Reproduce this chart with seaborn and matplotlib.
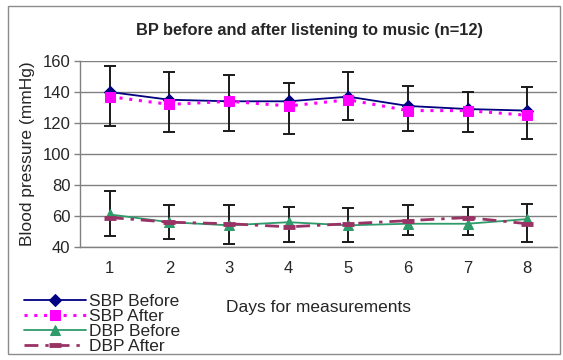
import numpy as np
import pandas as pd
import matplotlib
matplotlib.use("Agg")
import matplotlib.pyplot as plt
import seaborn as sns
from matplotlib.patches import Rectangle

# data
days = [1, 2, 3, 4, 5, 6, 7, 8]
sbp_before = [140, 135, 134, 134, 137, 131, 129, 128]
sbp_after = [137, 132, 134, 131, 135, 128, 128, 125]
dbp_before = [61, 56, 54, 56, 54, 55, 55, 58]
dbp_after = [59, 56, 55, 53, 55, 57, 59, 55]

# error bar ends (upper / lower)
sbp_err_top = [157, 153, 151, 146, 153, 144, 140, 143]
sbp_err_bot = [118, 114, 115, 113, 122, 115, 114, 110]
dbp_err_top = [76, 67, 67, 66, 65, 67, 66, 68]
dbp_err_bot = [47, 45, 42, 43, 43, 48, 48, 43]

y_ticks = [40, 60, 80, 100, 120, 140, 160]

sns.set_style("white")
plt.rcParams['font.family'] = ['Liberation Sans', 'DejaVu Sans']

fig = plt.figure(figsize=(5.63, 3.60), dpi=100)
ax = fig.add_axes([80 / 563, 1 - 247 / 360, 477 / 563, 186 / 360])

# error bars first so the lines sit on top
for mean, top, bot in [(sbp_before, sbp_err_top, sbp_err_bot),
                       (dbp_before, dbp_err_top, dbp_err_bot)]:
    mean = np.array(mean)
    yerr = [mean - np.array(bot), np.array(top) - mean]
    ax.errorbar(days, mean, yerr=yerr, fmt='none', ecolor='#1a1a1a',
                elinewidth=1.4, capsize=4.5, capthick=1.4, zorder=2)

sns.lineplot(x=days, y=sbp_before, ax=ax, color='#000080', linewidth=1.3,
             marker='D', markersize=6, markeredgecolor='#000080',
             label='SBP Before', zorder=3)
sns.lineplot(x=days, y=sbp_after, ax=ax, color='#FF00FF', linewidth=2.2,
             linestyle=(0, (1, 2.2)), marker='s', markersize=7,
             markeredgecolor='#FF00FF', label='SBP After', zorder=4)
sns.lineplot(x=days, y=dbp_before, ax=ax, color='#2E9B6A', linewidth=1.3,
             marker='^', markersize=7, markeredgecolor='#2E9B6A',
             label='DBP Before', zorder=3)
sns.lineplot(x=days, y=dbp_after, ax=ax, color='#993366', linewidth=2.0,
             linestyle=(0, (5, 2.5, 1.2, 2.5)), marker='_', markersize=9,
             markeredgewidth=3.5, markeredgecolor='#993366',
             label='DBP After', zorder=4)

ax.set_xlim(0.5, 8.5)
ax.set_ylim(40, 160)
ax.set_yticks(y_ticks)
ax.set_xticks(days)
ax.set_xticks(np.arange(0.5, 9, 1), minor=True)
ax.tick_params(axis='x', which='major', length=0, pad=10, labelsize=12)
ax.tick_params(axis='x', which='minor', length=4, color='#808080', width=1)
ax.tick_params(axis='y', which='major', length=4, color='#808080', width=1,
               pad=3, labelsize=12, left=True)
ax.yaxis.grid(True, color='#808080', linewidth=1)
ax.set_axisbelow(True)

for side in ['top', 'right']:
    ax.spines[side].set_visible(False)
for side in ['left', 'bottom']:
    ax.spines[side].set_color('#808080')
    ax.spines[side].set_linewidth(1)

ax.set_ylabel('Blood pressure (mmHg)', fontsize=12.5)
ax.yaxis.set_label_coords((35 - 80) / 477, 0.5)
ax.set_xlabel('Days for measurements', fontsize=12.5)
ax.xaxis.set_label_coords(0.5, (247 - 300) / 186)

fig.text(310 / 563, 1 - 30 / 360, 'BP before and after listening to music (n=12)',
         ha='center', va='center', fontsize=11.8, fontweight='bold')

handles, labels = ax.get_legend_handles_labels()
ax.get_legend().remove()
fig.legend(handles, labels, loc='lower left', bbox_to_anchor=(22 / 563, 4 / 360),
           frameon=False, fontsize=12.5, handlelength=3.6, handletextpad=0.15,
           labelspacing=0.0, borderpad=0.1, borderaxespad=0)

# outer chart border
fig.patches.append(Rectangle((8 / 563, 6 / 360), 552 / 563, 348 / 360,
                             transform=fig.transFigure, fill=False,
                             edgecolor='#8c8c8c', linewidth=1))

fig.savefig('out.png', dpi=100)
